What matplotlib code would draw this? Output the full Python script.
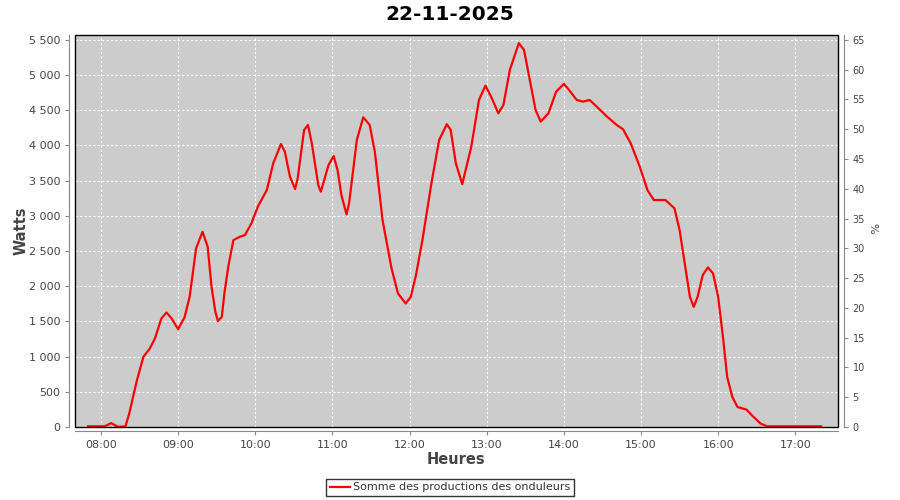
import matplotlib
matplotlib.use("Agg")
import matplotlib.pyplot as plt
from matplotlib.patches import Rectangle
from matplotlib.ticker import FuncFormatter, MultipleLocator

title = "22-11-2025"
series_name = "Somme des productions des onduleurs"
times = ["07:50", "08:03", "08:08", "08:13", "08:19", "08:22", "08:28", "08:33", "08:38", "08:42",
         "08:47", "08:51", "08:55", "09:00", "09:05", "09:09", "09:14", "09:19", "09:23", "09:26",
         "09:29", "09:31", "09:34", "09:36", "09:39", "09:43", "09:48", "09:52", "09:57", "10:02",
         "10:09", "10:14", "10:20", "10:23", "10:27", "10:31", "10:33", "10:38", "10:41", "10:44",
         "10:49", "10:51", "10:57", "11:01", "11:04", "11:07", "11:11", "11:13", "11:19", "11:24",
         "11:29", "11:33", "11:39", "11:46", "11:51", "11:57", "12:01", "12:05", "12:10", "12:17",
         "12:23", "12:29", "12:32", "12:36", "12:41", "12:48", "12:54", "12:59", "13:04", "13:09",
         "13:13", "13:18", "13:25", "13:29", "13:33", "13:38", "13:42", "13:48", "13:54", "14:00",
         "14:04", "14:10", "14:15", "14:20", "14:25", "14:33", "14:41", "14:46", "14:52", "14:59",
         "15:05", "15:10", "15:19", "15:26", "15:30", "15:34", "15:38", "15:41", "15:44", "15:48",
         "15:52", "15:56", "16:00", "16:04", "16:07", "16:11", "16:15", "16:22", "16:27", "16:33",
         "16:38", "17:20"]
watts = [10, 10, 55, 5, 5, 190, 664, 996, 1115, 1257,
         1542, 1627, 1542, 1390, 1556, 1850, 2538, 2774, 2561, 1992,
         1636, 1504, 1565, 1898, 2276, 2656, 2703, 2727, 2893, 3130,
         3367, 3747, 4021, 3912, 3556, 3381, 3533, 4220, 4292, 4031,
         3438, 3343, 3723, 3851, 3652, 3296, 3021, 3178, 4078, 4401,
         4292, 3912, 2940, 2253, 1898, 1755, 1850, 2158, 2656, 3462,
         4078, 4302, 4220, 3747, 3452, 3983, 4647, 4851, 4671, 4458,
         4576, 5074, 5454, 5358, 4979, 4505, 4339, 4458, 4765, 4875,
         4790, 4647, 4623, 4647, 4562, 4420, 4292, 4231, 4031, 3699,
         3367, 3225, 3225, 3107, 2798, 2324, 1850, 1707, 1850, 2158,
         2268, 2182, 1850, 1233, 711, 427, 285, 247, 152, 48,
         10, 10]
hour_ticks = [8, 9, 10, 11, 12, 13, 14, 15, 16, 17]


def to_hours(s):
    h, m = s.split(":")
    return int(h) + int(m) / 60.0


x = [to_hours(t) for t in times]

plt.rcParams['font.family'] = ['DejaVu Sans']
fig = plt.figure(figsize=(9, 5), dpi=100)
L, R, T, B = 75, 838, 35, 427
W, H = R - L, B - T
ax = fig.add_axes([L / 900, 1 - B / 500, W / 900, H / 500])
ax.set_facecolor("#cccccc")

ymax = 5570
ax.set_ylim(0, ymax)
ax.set_xlim(7.664, 17.553)

line, = ax.plot(x, watts, color="red", lw=1.6, label=series_name)

ax.yaxis.set_major_locator(MultipleLocator(500))
ax.yaxis.set_major_formatter(FuncFormatter(lambda v, p: f"{int(v):,}".replace(",", " ")))
ax.set_xticks(hour_ticks)
ax.set_xticklabels([f"{h:02d}:00" for h in hour_ticks])

ax.grid(True, color="white", ls=(0, (2, 2)), lw=0.8)
ax.set_axisbelow(True)

gray = "#888888"
for s in ["top", "right"]:
    ax.spines[s].set_visible(False)
ax.spines["left"].set_position(("outward", 4))
ax.spines["bottom"].set_position(("outward", 3))
ax.spines["left"].set_color(gray)
ax.spines["bottom"].set_color(gray)
ax.tick_params(axis="both", colors=gray, labelcolor="#444444", labelsize=8, length=3, width=0.8)

ax2 = ax.twinx()
ax2.set_ylim(0, ymax * 65 / 5500)
ax2.yaxis.set_major_locator(MultipleLocator(5))
for s in ["top", "left", "bottom"]:
    ax2.spines[s].set_visible(False)
ax2.spines["right"].set_position(("outward", 4))
ax2.spines["right"].set_color(gray)
ax2.tick_params(axis="y", colors=gray, labelcolor="#444444", labelsize=7, length=3, width=0.8)
ax2.set_ylabel("%", fontsize=8, color="#444444", rotation=270, va="center")
ax2.yaxis.set_label_coords((872 - L) / W, (B - 228) / H)

ax.add_patch(Rectangle((0, 0), 1, 1, transform=ax.transAxes, fill=False,
                       ec="black", lw=1.0, clip_on=False, zorder=5))

ax.set_ylabel("Watts", fontsize=10.5, color="#444444", fontweight="bold", va="center")
ax.yaxis.set_label_coords((21 - L) / W, (B - 231) / H)
ax.set_xlabel("Heures", fontsize=10.5, color="#444444", fontweight="bold", va="center")
ax.xaxis.set_label_coords((456 - L) / W, (B - 460) / H)
fig.text(0.5, 1 - 14 / 500, title, fontsize=14.5, fontweight="bold", ha="center", va="center")

leg = fig.legend(handles=[line], loc="center", bbox_to_anchor=(450 / 900, 1 - 487.5 / 500),
                 frameon=True, fancybox=False, fontsize=8, handlelength=1.8,
                 borderpad=0.35, handletextpad=0.3, borderaxespad=0)
leg.get_frame().set_edgecolor("black")
leg.get_frame().set_linewidth(1.0)
for t in leg.get_texts():
    t.set_color("#333333")

fig.savefig("out.png", dpi=100)
